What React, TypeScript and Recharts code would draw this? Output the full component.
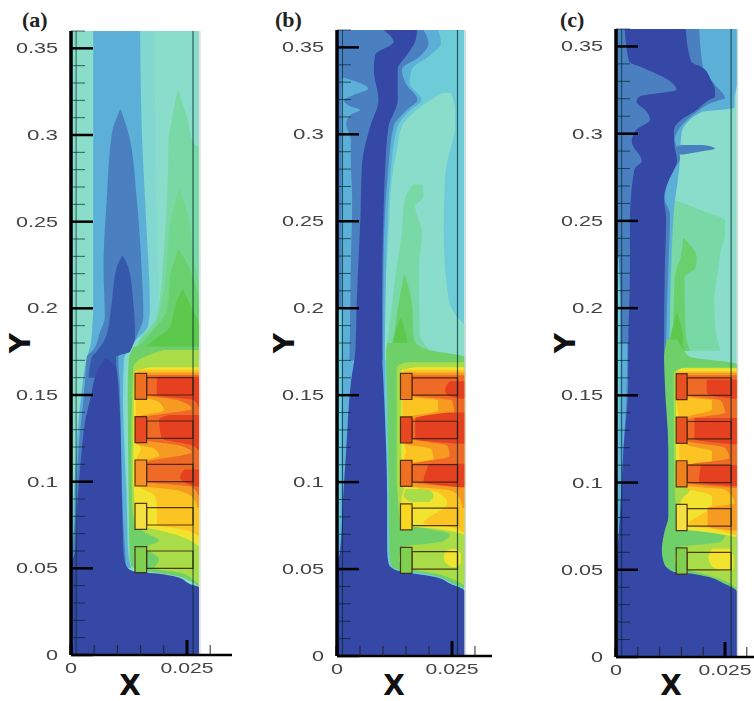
import { Area, ComposedChart, ReferenceArea, ReferenceLine, XAxis, YAxis } from "recharts";

// contour bands, each row is [y, x from, x to], x in units of 0.001
type Row = number[];

const xMajor = [0, 0.025];
const xMinor = [0.005, 0.01, 0.015, 0.02, 0.03];
const yMajor = [0, 0.05, 0.1, 0.15, 0.2, 0.25, 0.3, 0.35];
const yMinor = [
  0.01, 0.02, 0.03, 0.04, 0.06, 0.07, 0.08, 0.09, 0.11, 0.12, 0.13, 0.14, 0.16, 0.17, 0.18, 0.19, 0.21, 0.22,
  0.23, 0.24, 0.26, 0.27, 0.28, 0.29, 0.31, 0.32, 0.33, 0.34, 0.36,
];
const finCentres = [0.155, 0.13, 0.105, 0.08, 0.055];

const C = {
  dark: "#3648a6", deep: "#3558ab", mid: "#4a80c0", sky: "#5cb0d8", cyan: "#6ecbd8", aqua: "#80d8d0", teal: "#8adccb",
  g1: "#78d8a6", g2: "#72d68c", g3: "#68d06c", g4: "#5cc94c", hot: "#6fd06a", yg: "#a8dc48", y: "#f2e32e",
  yo: "#fbc422", o: "#f79a22", or: "#ef6a26", r: "#e5401f",
};

// panel (a)
const A_BASE: Row[] = [[0.36, 0, 27.6], [0, 0, 27.6]];
const A_AQUA: Row[] = [[0.36, 4.8, 18], [0.25, 4.8, 18.4], [0.2, 4.8, 18.8], [0.186, 4.6, 17.5], [0.175, 3.8, 12.5], [0.15, 2.5, 11.8], [0.05, 0, 12.6]];
const A_SKY: Row[] = [[0.36, 4.8, 14.9], [0.3, 4.8, 15.3], [0.25, 4.8, 16.2], [0.2, 4.8, 17], [0.19, 4.6, 16.6], [0.18, 4.3, 13.4], [0.17, 3.3, 11.4], [0.15, 2.2, 11.2], [0.12, 1.2, 11.5], [0.09, 0.6, 12], [0.06, 0.3, 12.3], [0.05, 0, 13]];
const A_MID: Row[] = [[0.3147, 10.6, 10.7], [0.3009, 8.8, 12.4], [0.2625, 7.7, 14.2], [0.224, 7, 15.2], [0.195, 7.3, 15.6], [0.186, 6.2, 14.5], [0.176, 4.8, 12.4], [0.172, 3.4, 10.2], [0.157, 3, 10.5], [0.118, 1.6, 10.8], [0.08, 0.9, 11.2], [0.0535, 0, 11.8]];
const A_DEEP: Row[] = [[0.2302, 11, 11.2], [0.2233, 9.8, 12.4], [0.2041, 8.8, 13.4], [0.1849, 7.7, 13.8], [0.175, 5.5, 12.7], [0.172, 4.5, 9.7], [0.16, 3.8, 9.9]];
const A_G1: Row[] = [[0.326, 23, 23.1], [0.31, 21.8, 25], [0.295, 21, 26.5], [0.293, 21, 27.6], [0.24, 20.2, 27.6], [0.195, 18.5, 27.6], [0.183, 15, 27.6], [0.17, 13, 27.6]];
const A_G2: Row[] = [[0.269, 23.3, 23.4], [0.25, 21.5, 25.5], [0.23, 20.8, 26.3], [0.21, 20, 27.6], [0.19, 18, 27.6], [0.18, 14.5, 27.6], [0.17, 13, 27.6]];
const A_G3: Row[] = [[0.234, 23.2, 23.3], [0.22, 21.5, 26], [0.2, 20.8, 27.6], [0.185, 17, 27.6], [0.175, 13.5, 27.6]];
const A_G4: Row[] = [[0.211, 24, 24.1], [0.2, 22.3, 26], [0.19, 21.5, 27.6], [0.18, 17, 27.6], [0.172, 14, 27.6]];
const A_HOT: Row[] = [[0.178, 13.5, 27.6], [0.17, 12.4, 27.6], [0.15, 12.2, 27.6], [0.1, 12.4, 27.6], [0.06, 12.6, 27.6], [0.052, 12.9, 27.6], [0.0495, 14, 27.6], [0.048, 17, 27.6], [0.046, 22, 27.6], [0.043, 25.5, 27.6], [0.04, 27.4, 27.6]];
const A_YG: Row[] = [[0.176, 20, 27.6], [0.17, 14.5, 27.6], [0.165, 13.4, 27.6], [0.12, 13, 27.6], [0.085, 13.2, 27.6], [0.075, 14, 27.6], [0.0705, 16, 27.6], [0.066, 19, 27.6], [0.062, 16.3, 27.6], [0.055, 19, 27.6], [0.05, 18, 27.6], [0.047, 24, 27.6], [0.043, 26.5, 27.6], [0.041, 27.5, 27.6]];
const A_Y: Row[] = [[0.166, 17, 27.6], [0.163, 13.6, 27.6], [0.1, 13.4, 27.6], [0.094, 13.6, 27.6], [0.075, 13.8, 27.6], [0.072, 19, 27.6], [0.067, 25, 27.6], [0.063, 27.3, 27.6]];
const A_YO: Row[] = [[0.1645, 14.2, 27.6], [0.148, 14, 27.6], [0.141, 14, 27.6], [0.125, 14, 27.6], [0.119, 15, 27.6], [0.113, 14.2, 27.6], [0.098, 14.5, 27.6], [0.092, 18, 27.6], [0.086, 18.5, 27.6], [0.075, 18.5, 27.6], [0.0725, 24, 27.6], [0.069, 27.2, 27.6]];
const A_O: Row[] = [[0.163, 16, 27.6], [0.149, 16, 27.6], [0.146, 19, 27.6], [0.141, 20, 27.6], [0.137, 14, 27.6], [0.122, 14, 27.6], [0.119, 18, 27.6], [0.115, 19, 27.6], [0.111, 14.5, 27.6], [0.098, 15, 27.6], [0.095, 23, 27.6], [0.09, 26.5, 27.6], [0.085, 27.2, 27.6]];
const A_OR: Row[] = [[0.1615, 16.3, 27.6], [0.15, 16.3, 27.6], [0.147, 23, 27.6], [0.142, 26, 27.6], [0.137, 16.3, 27.6], [0.124, 16.3, 27.6], [0.121, 23, 27.6], [0.117, 26, 27.6], [0.111, 16.3, 27.6], [0.1, 16.3, 27.6], [0.097, 26, 27.6], [0.092, 27.4, 27.6]];
const A_R1: Row[] = [[0.1605, 18.5, 27.6], [0.15, 18.5, 27.6], [0.147, 26.5, 27.6], [0.143, 27.5, 27.6]];
const A_R2: Row[] = [[0.1385, 21, 27.6], [0.136, 19, 27.6], [0.125, 19.5, 27.6], [0.121, 26, 27.6], [0.118, 27.4, 27.6]];
const A_R3: Row[] = [[0.107, 24.5, 27.6], [0.1025, 23.5, 27.6], [0.099, 25, 27.6], [0.097, 27.3, 27.6]];
const A_DARK: Row[] = [[0.171, 7.3, 7.7], [0.165, 5.9, 9.8], [0.147, 4.1, 10.4], [0.137, 3.2, 10.6], [0.118, 2.3, 10.8], [0.099, 1.7, 10.9], [0.089, 1.4, 11], [0.06, 0.9, 11.3], [0.051, 0, 12], [0.0485, 0, 13.2], [0.047, 0, 18.5], [0.045, 0, 22.8], [0.041, 0, 25.6], [0.039, 0, 27.6], [0, 0, 27.6]];

// panel (b)
const B_BASE: Row[] = [[0.36, 0, 27.7], [0, 0, 27.7]];
const B_TEAL: Row[] = [[0.3237, 22.8, 24.8], [0.3141, 17.4, 25.7], [0.3045, 14.1, 25.7], [0.291, 13, 24.6], [0.2758, 12, 23.5], [0.2432, 11.2, 23.2], [0.2048, 10.5, 24.3], [0.1953, 10.5, 26], [0.19, 10.4, 27.7], [0.17, 10.3, 27.7]];
const B_G1: Row[] = [[0.2712, 16.5, 18.5], [0.2643, 14.9, 18.8], [0.2586, 14.5, 17], [0.2432, 14.1, 18.5], [0.224, 13, 17.8], [0.1853, 11.2, 18], [0.176, 10.7, 20]];
const B_G3: Row[] = [[0.2196, 14.6, 14.7], [0.2, 13.2, 16.4], [0.185, 12.4, 16.6], [0.176, 11.5, 17.8]];
const B_G4: Row[] = [[0.1943, 13.8, 13.9], [0.185, 12.6, 15], [0.176, 12, 15.5], [0.17, 11.5, 17]];
const B_SKY: Row[] = [[0.36, 0, 22], [0.3525, 0, 22.6], [0.345, 0, 20], [0.3371, 0, 16.2], [0.3294, 0, 15.8], [0.3198, 0, 18.4], [0.3141, 0, 16], [0.3045, 0, 13.2], [0.2815, 0, 11.8], [0.224, 0, 10.7], [0.17, 0, 10.4], [0.05, 0, 11]];
const B_MID: Row[] = [[0.36, 0, 18.8], [0.3525, 0, 19.9], [0.345, 0, 18.1], [0.3371, 0, 14.1], [0.3294, 0, 14.9], [0.3198, 0, 17.5], [0.3141, 0, 15.2], [0.3045, 0, 12.3], [0.2815, 0, 11.2], [0.224, 0, 10.1], [0.17, 0, 10]];
const B_LEFT: Row[] = [[0.3325, 1, 1.5], [0.33, 1, 4.5], [0.3263, 1, 6.8], [0.3225, 1, 3.5], [0.3198, 1, 1.5], [0.316, 1, 3], [0.3141, 1, 5], [0.3112, 1, 3], [0.3063, 1, 2], [0.2968, 1, 3], [0.2853, 1, 3], [0.2622, 1, 3.3], [0.2238, 1, 3], [0.1853, 1, 2.8], [0.15, 0.8, 2.5], [0.12, 0.6, 2], [0.09, 0.4, 1.3], [0.06, 0.2, 0.7], [0.052, 0, 0.2]];
const B_STRIP: Row[] = [[0.2, 0, 1], [0.1, 0, 0.8], [0.06, 0, 0.3], [0.05, 0, 0.05]];
const B_HOT: Row[] = [[0.18, 10.9, 17], [0.176, 10.7, 20], [0.172, 10.7, 27.7], [0.15, 10.9, 27.7], [0.1, 11.2, 27.7], [0.06, 11.4, 27.7], [0.052, 11.8, 27.7], [0.0495, 13.2, 27.7], [0.048, 17.8, 27.7], [0.046, 21.5, 27.7], [0.042, 25, 27.7], [0.039, 27.4, 27.7]];
const B_YG: Row[] = [[0.169, 15, 27.7], [0.166, 13, 27.7], [0.1, 13, 27.7], [0.092, 13.2, 27.7], [0.0765, 13.8, 27.7], [0.073, 20, 27.7], [0.07, 24.5, 27.7], [0.066, 23, 27.7], [0.0625, 14, 27.7], [0.055, 13.5, 27.7], [0.05, 16, 27.7], [0.047, 22, 27.7], [0.043, 26, 27.7], [0.041, 27.5, 27.7]];
const B_YBLOB: Row[] = [[0.0615, 24.5, 26], [0.058, 23.2, 27], [0.054, 23.5, 27], [0.051, 25, 26]];
const B_Y: Row[] = [[0.166, 17, 27.7], [0.164, 14, 27.7], [0.1, 14, 27.7], [0.096, 14.5, 27.7], [0.09, 14, 27.7], [0.0755, 14, 27.7], [0.073, 22, 27.7], [0.07, 27.4, 27.7]];
const B_YG2: Row[] = [[0.096, 15, 20], [0.092, 14.5, 21], [0.0885, 16, 20]];
const B_YO: Row[] = [[0.1645, 14.5, 27.7], [0.148, 14.2, 27.7], [0.14, 14.2, 27.7], [0.122, 14.5, 27.7], [0.118, 15, 27.7], [0.112, 14.5, 27.7], [0.098, 15, 27.7], [0.094, 22, 27.7], [0.088, 24, 27.7], [0.076, 18.8, 27.7], [0.074, 25, 27.7], [0.071, 27.3, 27.7]];
const B_O: Row[] = [[0.163, 16, 27.7], [0.149, 16, 27.7], [0.147, 22, 27.7], [0.141, 22, 27.7], [0.137, 15, 27.7], [0.122, 15, 27.7], [0.119, 20.5, 27.7], [0.113, 21, 27.7], [0.1105, 15, 27.7], [0.098, 15.5, 27.7], [0.095, 25, 27.7], [0.09, 26.8, 27.7], [0.085, 27.2, 27.7]];
const B_OR: Row[] = [[0.1615, 16.3, 27.7], [0.15, 16.3, 27.7], [0.147, 25, 27.7], [0.14, 25.5, 27.7], [0.136, 16.3, 27.7], [0.125, 16.3, 27.7], [0.121, 24, 27.7], [0.115, 24.5, 27.7], [0.11, 16.3, 27.7], [0.1, 16.3, 27.7], [0.097, 27, 27.7]];
const B_R1: Row[] = [[0.158, 24.5, 27.7], [0.153, 23.5, 27.7], [0.15, 24, 27.7], [0.148, 27, 27.7]];
const B_R2: Row[] = [[0.14, 24, 27.7], [0.1365, 17, 27.7], [0.125, 17, 27.7], [0.122, 27, 27.7]];
const B_R3: Row[] = [[0.1105, 20, 27.7], [0.1, 18.8, 27.7], [0.097, 27, 27.7]];
const B_DARK: Row[] = [[0.36, 10.1, 17.4], [0.3533, 12.3, 17], [0.3457, 8.3, 15.2], [0.3371, 8, 13.2], [0.3198, 9, 13.2], [0.3045, 7.2, 11.2], [0.2815, 5.4, 10.5], [0.2528, 5.1, 10.1], [0.2048, 4.3, 9.8], [0.176, 4, 9.8], [0.1568, 3, 10.1], [0.1185, 2, 10.7], [0.0897, 1.3, 10.9], [0.0609, 0.7, 10.9], [0.0534, 0.15, 11.2], [0.0495, 0, 12.7], [0.0471, 0, 17.4], [0.0456, 0, 21], [0.0416, 0, 24.6], [0.0375, 0, 27.7], [0, 0, 27.7]];

// panel (c)
const C_BASE: Row[] = [[0.36, 0, 27.7], [0, 0, 27.7]];
const C_SKY: Row[] = [[0.36, 15, 27.7], [0.3376, 17, 27.7], [0.3281, 20, 27.7], [0.3205, 22, 27.2], [0.3148, 19, 27.2], [0.3123, 16, 19.5], [0.3, 12, 15], [0.28, 11, 14.5], [0.2535, 10.8, 13.2], [0.17, 10, 12.2]];
const C_MID: Row[] = [[0.36, 0, 19.1], [0.3376, 0, 20], [0.3281, 0, 22.7], [0.3205, 0, 25], [0.3181, 0, 22.3], [0.3123, 0, 18.5], [0.3046, 0, 15], [0.297, 0, 13.5], [0.2857, 0, 14.7], [0.28, 0, 13.5], [0.2724, 0, 12], [0.263, 0, 11.2], [0.2535, 0, 12.4], [0.223, 0, 12], [0.1757, 0, 11.5], [0.0488, 0, 11.5]];
const C_TAIL: Row[] = [[0.2935, 15, 20], [0.2925, 14, 22], [0.2913, 14, 22.7], [0.29, 14, 20], [0.288, 14, 15.5]];
const C_G1: Row[] = [[0.2614, 12.8, 14], [0.2556, 12.6, 20], [0.2499, 12.4, 25], [0.2423, 12.3, 25], [0.2327, 12, 24], [0.2232, 12, 23.5], [0.2041, 11.8, 22.5], [0.185, 11.6, 23], [0.1756, 11.4, 24]];
const C_G3: Row[] = [[0.2403, 15.4, 15.5], [0.2289, 14.8, 18.5], [0.2232, 14, 18.2], [0.2175, 13.5, 15.7], [0.185, 13, 16], [0.1756, 12.4, 17]];
const C_G4: Row[] = [[0.1972, 13.9, 14], [0.185, 12.6, 15.3], [0.176, 12, 15.5], [0.17, 11.5, 16]];
const C_LEFT: Row[] = [[0.2287, 0, 0.6], [0.2, 0, 1], [0.1, 0, 0.8], [0.06, 0, 0.3], [0.05, 0, 0.05]];
const C_LEFT2: Row[] = [[0.18, 1, 2.6], [0.15, 0.8, 2.4], [0.1185, 0.6, 1.7], [0.08, 0.4, 0.9], [0.055, 0.1, 0.3]];
const C_HOT: Row[] = [[0.182, 11.6, 14], [0.176, 11.2, 15.5], [0.172, 11, 17], [0.168, 11, 27.7], [0.15, 11.2, 27.7], [0.11, 11.7, 27.7], [0.085, 11.7, 27.7], [0.0755, 11, 27.7], [0.065, 10.4, 27.7], [0.055, 10.8, 27.7], [0.05, 12, 27.7], [0.048, 16.5, 27.7], [0.046, 20, 27.7], [0.042, 24, 27.7], [0.038, 27.4, 27.7]];
const C_YG: Row[] = [[0.166, 16, 27.7], [0.163, 13.2, 27.7], [0.1, 13.4, 27.7], [0.09, 13.6, 27.7], [0.075, 14.2, 27.7], [0.073, 20, 27.7], [0.07, 25, 27.7], [0.066, 24, 27.7], [0.0625, 14, 27.7], [0.055, 13.5, 27.7], [0.05, 16.5, 27.7], [0.047, 21, 27.7], [0.043, 25.5, 27.7], [0.04, 27.4, 27.7]];
const C_YBLOB: Row[] = [[0.062, 22, 26], [0.057, 21.2, 27], [0.052, 22, 27], [0.0495, 24, 26.5]];
const C_Y: Row[] = [[0.1655, 15, 27.7], [0.163, 13.8, 27.7], [0.1, 13.8, 27.7], [0.096, 17, 27.7], [0.09, 15, 27.7], [0.074, 14, 27.7], [0.0715, 21, 27.7], [0.069, 27.2, 27.7]];
const C_YO: Row[] = [[0.164, 14, 27.7], [0.145, 14, 27.7], [0.14, 14.2, 27.7], [0.122, 14.5, 27.7], [0.112, 14.5, 27.7], [0.098, 15, 27.7], [0.092, 22, 27.7], [0.087, 22, 27.7], [0.0755, 16.5, 27.7], [0.073, 23, 27.7], [0.07, 27.2, 27.7]];
const C_O: Row[] = [[0.163, 16, 27.7], [0.149, 16, 27.7], [0.147, 22, 27.7], [0.142, 22, 27.7], [0.137, 16, 27.7], [0.122, 16, 27.7], [0.118, 22, 27.7], [0.112, 22, 27.7], [0.109, 16.3, 27.7], [0.098, 16.5, 27.7], [0.096, 25, 27.7], [0.088, 27.2, 27.7], [0.0855, 21, 27.7], [0.075, 21, 27.7], [0.0725, 27, 27.7]];
const C_OR: Row[] = [[0.1615, 16.3, 27.7], [0.15, 16.3, 27.7], [0.147, 24, 27.7], [0.14, 25, 27.7], [0.136, 16.3, 27.7], [0.124, 16.3, 27.7], [0.12, 25, 27.7], [0.114, 26, 27.7], [0.11, 16.3, 27.7], [0.1, 16.3, 27.7], [0.097, 27, 27.7]];
const C_R1: Row[] = [[0.159, 20.8, 27.7], [0.152, 20.8, 27.7], [0.15, 21.5, 27.7], [0.148, 27, 27.7]];
const C_R2: Row[] = [[0.137, 18, 27.7], [0.125, 18, 27.7], [0.122, 27, 27.7]];
const C_R3: Row[] = [[0.11, 19.5, 27.7], [0.1, 19, 27.7], [0.098, 27, 27.7]];
const C_DARK: Row[] = [[0.36, 2, 16], [0.3413, 3, 17.2], [0.3376, 6.3, 20], [0.33, 12.4, 21.9], [0.3252, 13.9, 22.7], [0.3214, 5.5, 22.7], [0.3185, 4.7, 20.8], [0.3128, 7, 18.1], [0.308, 7.8, 15], [0.3023, 4.7, 13.3], [0.2956, 3.6, 13.3], [0.2842, 5.9, 14], [0.2804, 4.4, 13.5], [0.2728, 3.8, 12], [0.263, 3.4, 11], [0.2518, 3.2, 11.5], [0.223, 3.2, 11.2], [0.1757, 2.8, 11], [0.1566, 2.8, 11.2], [0.1185, 1.7, 12], [0.0803, 0.9, 12], [0.0727, 0.7, 11.2], [0.0613, 0.3, 10.5], [0.0537, 0.2, 11], [0.0488, 0, 13.2], [0.0476, 0, 17.7], [0.0461, 0, 20.8], [0.0423, 0, 24.6], [0.0375, 0, 27.7], [0, 0, 27.7]];

const panels = [
  {
    name: "(a)", nameX: 22, left: 71, top: 31, bottom: 655, width: 161, xMax: 0.0347, yLabelX: 21, xLabelX: 130, lineL: 1.1, lineR: 26.3, edge: 27.6,
    heads: ["#ee7020", "#e84820", "#f59028", "#f4e040", "#80d050"],
    bands: [
      [C.teal, A_BASE], [C.aqua, A_AQUA], [C.sky, A_SKY], [C.mid, A_MID], [C.deep, A_DEEP], [C.g1, A_G1], [C.g2, A_G2], [C.g3, A_G3], [C.g4, A_G4],
      [C.hot, A_HOT], [C.yg, A_YG], [C.y, A_Y], [C.yo, A_YO], [C.o, A_O], [C.or, A_OR], [C.r, A_R1], [C.r, A_R2], [C.r, A_R3], [C.dark, A_DARK],
    ],
  },
  {
    name: "(b)", nameX: 275, left: 337, top: 30, bottom: 656, width: 155, xMax: 0.0337, yLabelX: 285, xLabelX: 394, lineL: 1.2, lineR: 26.2, edge: 27.7,
    heads: ["#ee7a20", "#e84820", "#ee7020", "#f8d820", "#80d050"],
    bands: [
      [C.cyan, B_BASE], [C.teal, B_TEAL], [C.g1, B_G1], [C.g3, B_G3], [C.g4, B_G4], [C.sky, B_SKY], [C.mid, B_MID], [C.sky, B_LEFT], [C.cyan, B_STRIP],
      [C.hot, B_HOT], [C.yg, B_YG], [C.y, B_YBLOB], [C.y, B_Y], [C.yg, B_YG2], [C.yo, B_YO], [C.o, B_O], [C.or, B_OR], [C.r, B_R1], [C.r, B_R2], [C.r, B_R3], [C.dark, B_DARK],
    ],
  },
  {
    name: "(c)", nameX: 560, left: 616, top: 29, bottom: 657, width: 138, xMax: 0.03165, yLabelX: 566, xLabelX: 671, lineL: 1.3, lineR: 26.4, edge: 27.7,
    heads: ["#e85020", "#e85020", "#ee8020", "#f4e040", "#80d050"],
    bands: [
      [C.teal, C_BASE], [C.g1, C_G1], [C.g3, C_G3], [C.g4, C_G4], [C.sky, C_SKY], [C.mid, C_MID], [C.mid, C_TAIL], [C.cyan, C_LEFT], [C.sky, C_LEFT2],
      [C.hot, C_HOT], [C.yg, C_YG], [C.y, C_YBLOB], [C.y, C_Y], [C.yo, C_YO], [C.o, C_O], [C.or, C_OR], [C.r, C_R1], [C.r, C_R2], [C.r, C_R3], [C.dark, C_DARK],
    ],
  },
];

const toPoints = (rows: Row[]) =>
  [...rows].sort((p, q) => p[0] - q[0]).map(([y, lo, hi]) => ({ y, x: [lo / 1000, hi / 1000] }));

const labelWidth = (s: string) => (s.length === 1 ? 12 : s.length * 11 - 2);
const tickFont = { fontFamily: "'Liberation Sans', Arial, sans-serif", fontSize: 15 };

function XTick({ x, y, payload }: any) {
  const major = xMajor.includes(payload.value);
  const text = String(payload.value);
  return (
    <g>
      <line x1={x} x2={x} y1={y} y2={y - (major && payload.value !== 0 ? 15 : 10)} stroke={major ? "#000" : "#222"} strokeWidth={major ? 3 : 1} />
      {major && (
        <text x={x} y={y + 18} textAnchor="middle" style={tickFont} fill="#444" textLength={labelWidth(text)} lengthAdjust="spacingAndGlyphs">
          {text}
        </text>
      )}
    </g>
  );
}

function YTick({ x, y, payload }: any) {
  const major = yMajor.includes(payload.value);
  const text = String(payload.value);
  return (
    <g>
      <line x1={x} x2={x + (major ? 22 : 14)} y1={y} y2={y} stroke={major ? "#000" : "rgba(0,30,30,0.65)"} strokeWidth={major ? 2.5 : 1} />
      {major && (
        <text x={x - 13} y={y + 5} textAnchor="end" style={tickFont} fill="#444" textLength={labelWidth(text)} lengthAdjust="spacingAndGlyphs">
          {text}
        </text>
      )}
    </g>
  );
}

const axisName = { position: "absolute", fontFamily: "'DejaVu Sans'", fontWeight: "bold", fontSize: 28, lineHeight: 1, color: "#111" } as const;

function Panel({ p }: { p: (typeof panels)[number] }) {
  const lineColor = "rgba(0,40,40,0.7)";
  return (
    <>
      <div style={{ position: "absolute", left: p.left - 60, top: 0, filter: "blur(0.5px)" }}>
        <ComposedChart
          width={60 + p.width}
          height={p.bottom + 46}
          margin={{ top: p.top, right: 0, bottom: 0, left: 0 }}
          layout="vertical"
        >
          {p.bands.map(([fill, rows], i) => (
            <Area
              key={i}
              data={toPoints(rows as Row[])}
              dataKey="x"
              type="monotone"
              fill={fill as string}
              fillOpacity={1}
              stroke="none"
              dot={false}
              activeDot={false}
              isAnimationActive={false}
            />
          ))}
          {finCentres.map((c, i) => (
            <ReferenceArea key={"b" + i} x1={0.0163} x2={p.lineR / 1000} y1={c - 0.005} y2={c + 0.005} fill="none" stroke="rgba(60,30,10,0.85)" strokeWidth={1.2} />
          ))}
          {finCentres.map((c, i) => (
            <ReferenceArea key={"h" + i} x1={0.0138} x2={0.0163} y1={c - 0.0075} y2={c + 0.0075} fill={p.heads[i]} fillOpacity={1} stroke="rgba(60,30,10,0.85)" strokeWidth={1.2} />
          ))}
          <ReferenceLine stroke={lineColor} strokeWidth={1} segment={[{ x: p.lineL / 1000, y: 0 }, { x: p.lineL / 1000, y: 0.36 }]} />
          <ReferenceLine stroke={lineColor} strokeWidth={1.2} segment={[{ x: p.lineR / 1000, y: 0 }, { x: p.lineR / 1000, y: 0.36 }]} />
          <ReferenceLine stroke="#cfcfcf" strokeWidth={1} segment={[{ x: (p.edge + 0.2) / 1000, y: 0 }, { x: (p.edge + 0.2) / 1000, y: 0.36 }]} />
          <XAxis
            type="number"
            dataKey="x"
            domain={[0, p.xMax]}
            allowDataOverflow
            ticks={[...xMajor, ...xMinor].sort((m, n) => m - n)}
            interval={0}
            height={46}
            tickSize={0}
            tickMargin={0}
            tickLine={false}
            tick={<XTick />}
            axisLine={{ stroke: "#000", strokeWidth: 2.5 }}
          />
          <YAxis
            type="number"
            dataKey="y"
            domain={[0, 0.36]}
            reversed
            allowDataOverflow
            ticks={[...yMajor, ...yMinor].sort((m, n) => m - n)}
            interval={0}
            width={60}
            tickSize={0}
            tickMargin={0}
            tickLine={false}
            tick={<YTick />}
            axisLine={{ stroke: "#000", strokeWidth: 3.5 }}
          />
        </ComposedChart>
      </div>
      <div style={{ position: "absolute", left: p.nameX, top: 8, fontFamily: "'Liberation Serif'", fontWeight: "bold", fontSize: 22, lineHeight: "24px", color: "#222" }}>{p.name}</div>
      <div style={{ ...axisName, left: p.yLabelX, top: 343, transform: "translate(-50%,-50%) rotate(-90deg)" }}>Y</div>
      <div style={{ ...axisName, left: p.xLabelX, top: 686, transform: "translate(-50%,-50%)" }}>X</div>
    </>
  );
}

export default function App() {
  return (
    <div style={{ position: "absolute", left: 0, top: 0, width: 754, height: 701, overflow: "hidden", background: "#fff" }}>
      {panels.map((p) => (
        <Panel key={p.name} p={p} />
      ))}
    </div>
  );
}
